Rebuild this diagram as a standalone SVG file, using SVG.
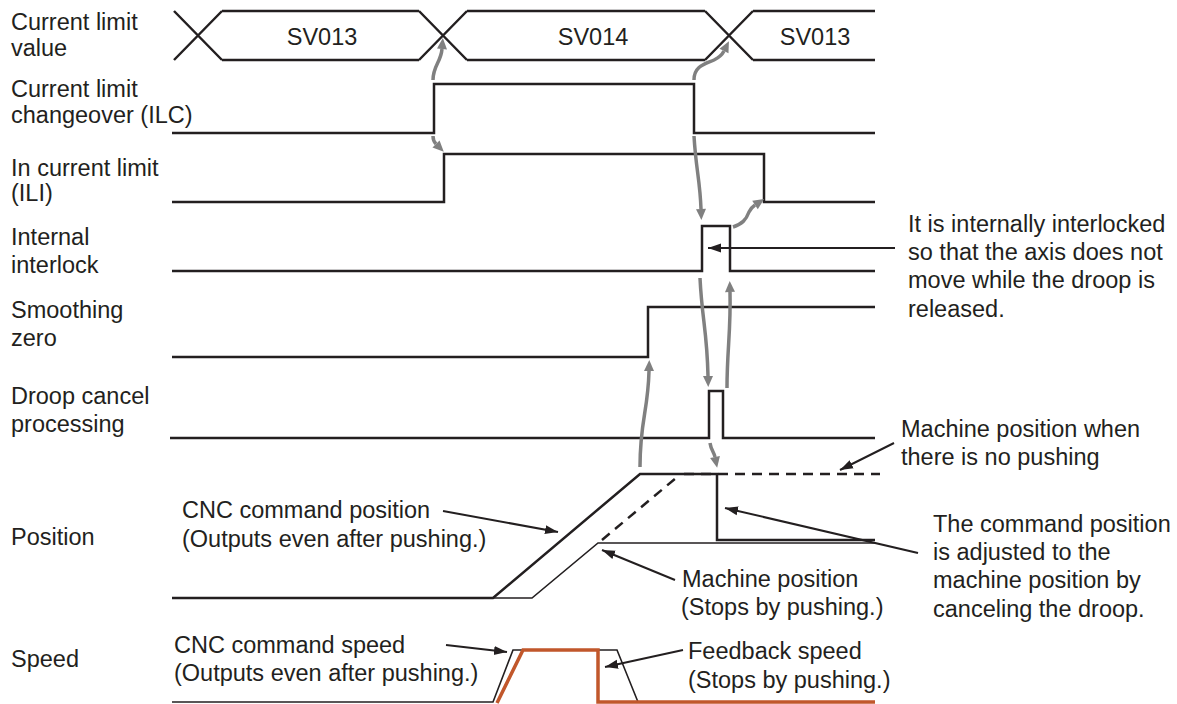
<svg xmlns="http://www.w3.org/2000/svg" width="1177" height="704" viewBox="0 0 1177 704">
<style>
text{font-family:"Liberation Sans",Arial,sans-serif;font-size:23.5px;fill:#231f20}
.sig{fill:none;stroke:#231f20;stroke-width:2.5;stroke-linejoin:miter}
.thin{fill:none;stroke:#231f20;stroke-width:1.6}
.dash{fill:none;stroke:#231f20;stroke-width:2.5;stroke-dasharray:10 7}
.g{fill:none;stroke:#808080;stroke-width:3.5;marker-end:url(#ga)}
.b{fill:none;stroke:#231f20;stroke-width:2;marker-end:url(#ba)}
.or{fill:none;stroke:#c1572b;stroke-width:3.5}
.c{text-anchor:middle}
</style>
<defs>
<marker id="ga" markerUnits="userSpaceOnUse" markerWidth="14" markerHeight="12" viewBox="0 -6 12 12" refX="0" refY="0" orient="auto"><path d="M0,-5 L11,0 L0,5 z" fill="#808080"/></marker>
<marker id="ba" markerUnits="userSpaceOnUse" markerWidth="14" markerHeight="12" viewBox="0 -6 14 12" refX="13" refY="0" orient="auto"><path d="M0,-4.5 L13,0 L0,4.5 z" fill="#231f20"/></marker>
</defs>

<g id="labels">
<text x="11" y="30">Current limit</text>
<text x="11" y="56">value</text>
<text x="11" y="97">Current limit</text>
<text x="11" y="123">changeover (ILC)</text>
<text x="11" y="176">In current limit</text>
<text x="11" y="201">(ILI)</text>
<text x="11" y="245">Internal</text>
<text x="11" y="273">interlock</text>
<text x="11" y="318">Smoothing</text>
<text x="11" y="346">zero</text>
<text x="11" y="404">Droop cancel</text>
<text x="11" y="432">processing</text>
<text x="11" y="545">Position</text>
<text x="11" y="667">Speed</text>
</g>

<g id="bus">
<path class="sig" d="M174,11 L222,60 M174,60 L222,11 M222,11 H419 M222,60 H419 M419,11 L467,60 M419,60 L467,11 M467,11 H705 M467,60 H705 M705,11 L753,60 M705,60 L753,11 M753,11 H875 M753,60 H875"/>
<text class="c" x="322" y="45">SV013</text>
<text class="c" x="593" y="45">SV014</text>
<text class="c" x="815" y="45">SV013</text>
</g>

<g id="ilc"><path class="sig" d="M172,133 H434 V84 H694 V133 H875"/></g>
<g id="ili"><path class="sig" d="M172,202 H444 V154 H764 V202 H875"/></g>
<g id="interlock"><path class="sig" d="M172,271 H702 V226 H730 V271 H875"/></g>
<g id="smoothing"><path class="sig" d="M172,357 H648 V307 H875"/></g>
<g id="droop"><path class="sig" d="M170,438 H709 V391 H723 V438 H875"/></g>

<g id="position">
<path class="sig" d="M172,598 H493 L640,474 H717 V540 H875"/>
<path class="thin" d="M493,598 H532 L598,543 H875"/>
<path class="dash" d="M602,540 L676,478 M684,474 H880"/>
</g>

<g id="speed">
<path class="thin" d="M172,702 H493 L513,650 H617 L638,702"/>
<path class="or" d="M497,703 L523,650 H598 V702 H875"/>
</g>

<g id="notes">
<text x="908" y="232">It is internally interlocked</text>
<text x="908" y="260">so that the axis does not</text>
<text x="908" y="288">move while the droop is</text>
<text x="908" y="317">released.</text>
<text x="901" y="437">Machine position when</text>
<text x="901" y="465">there is no pushing</text>
<text x="933" y="532">The command position</text>
<text x="933" y="560">is adjusted to the</text>
<text x="933" y="588">machine position by</text>
<text x="933" y="617">canceling the droop.</text>
<text x="182" y="518">CNC command position</text>
<text x="182" y="547">(Outputs even after pushing.)</text>
<text x="682" y="587">Machine position</text>
<text x="681" y="615">(Stops by pushing.)</text>
<text x="174" y="653">CNC command speed</text>
<text x="174" y="681">(Outputs even after pushing.)</text>
<text x="688" y="659">Feedback speed</text>
<text x="688" y="688">(Stops by pushing.)</text>
</g>

<g id="connectors">
<path class="g" d="M433,80 C433,66 441,62 442,49"/>
<path class="g" d="M433,136 C433,140 434,142 436,144"/>
<path class="g" d="M694,80 C694,66 705,64 714,60 C720,57 722,55 724,51"/>
<path class="g" d="M694,136 C696,170 700,180 701,209"/>
<path class="g" d="M733,227 C742,224 746,220 749,212 C751,208 752,207 755,205"/>
<path class="g" d="M700,278 C702,320 707,330 708,376"/>
<path class="g" d="M727,388 C727,350 731,330 730,292"/>
<path class="g" d="M640,467 C640,420 648,412 649,371"/>
<path class="g" d="M710,443 C711,450 714,452 715,457"/>
<path class="b" d="M895,248 H708"/>
<path class="b" d="M894,443 L840,470"/>
<path class="b" d="M918,553 L725,508"/>
<path class="b" d="M443,511 L558,532"/>
<path class="b" d="M675,580 L602,550"/>
<path class="b" d="M446,645 L507,652"/>
<path class="b" d="M683,650 L605,667"/>
</g>
</svg>
